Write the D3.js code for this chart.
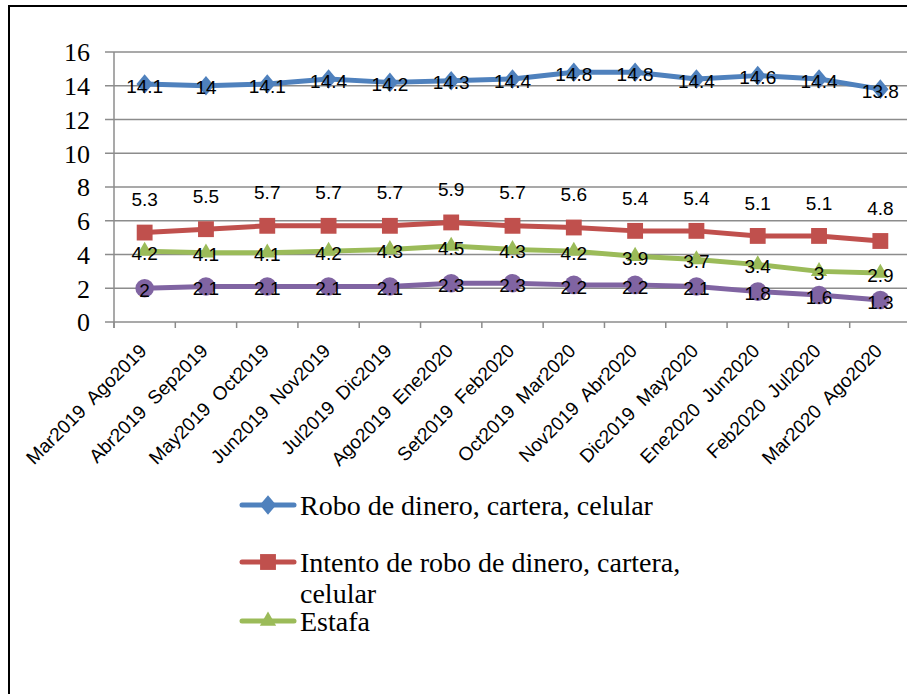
<!DOCTYPE html>
<html><head><meta charset="utf-8">
<script src="https://cdn.jsdelivr.net/npm/d3@7"></script>
<style>
html,body{margin:0;padding:0;background:#fff;}
svg{display:block;}
</style></head>
<body>
<svg id="chart" width="907" height="694"></svg>
<script>
const categories = ["Mar2019  Ago2019","Abr2019  Sep2019","May2019  Oct2019","Jun2019  Nov2019","Jul2019  Dic2019","Ago2019  Ene2020","Set2019  Feb2020","Oct2019  Mar2020","Nov2019  Abr2020","Dic2019  May2020","Ene2020  Jun2020","Feb2020  Jul2020","Mar2020  Ago2020"];
const roboValues = [14.1,14,14.1,14.4,14.2,14.3,14.4,14.8,14.8,14.4,14.6,14.4,13.8];
const intentoValues = [5.3,5.5,5.7,5.7,5.7,5.9,5.7,5.6,5.4,5.4,5.1,5.1,4.8];
const estafaValues = [4.2,4.1,4.1,4.2,4.3,4.5,4.3,4.2,3.9,3.7,3.4,3,2.9];
const otroValues = [2,2.1,2.1,2.1,2.1,2.3,2.3,2.2,2.2,2.1,1.8,1.6,1.3];
const seriesNames = ["Robo de dinero, cartera, celular","Intento de robo de dinero, cartera, celular","Estafa","Otro"];
const yTicks = [0,2,4,6,8,10,12,14,16];

const series = [
  {name:seriesNames[0], values:roboValues, color:"#4F81BD", marker:"diamond", label:"center", legend:true},
  {name:seriesNames[1], values:intentoValues, color:"#C0504D", marker:"square", label:"above", legend:true},
  {name:seriesNames[2], values:estafaValues, color:"#9BBB59", marker:"triangle", label:"center", legend:true},
  {name:seriesNames[3], values:otroValues, color:"#8064A2", marker:"circle", label:"center", legend:false}
];

const svg = d3.select("#chart");
const plotLeft = 114, plotRight = 911, plotTop = 52, plotBottom = 322;

const x = d3.scaleBand().domain(categories).range([plotLeft, plotRight]).padding(0);
const y = d3.scaleLinear().domain([0,16]).range([plotBottom, plotTop]);
const cx = c => x(c) + x.bandwidth()/2;

// frame
svg.append("rect").attr("x",9).attr("y",6).attr("width",930).attr("height",730)
  .attr("fill","none").attr("stroke","#000").attr("stroke-width",2);

// gridlines
svg.append("g").selectAll("line").data(yTicks).join("line")
  .attr("x1",105).attr("x2",plotRight).attr("y1",d=>y(d)).attr("y2",d=>y(d))
  .attr("stroke","#8c8c8c").attr("stroke-width",1.5);

// y axis line
svg.append("line").attr("x1",plotLeft).attr("x2",plotLeft).attr("y1",plotTop).attr("y2",plotBottom+6)
  .attr("stroke","#8c8c8c").attr("stroke-width",1.5);

// x ticks
const tickPos = categories.map(c => x(c)).concat([plotRight]);
svg.append("g").selectAll("line").data(tickPos).join("line")
  .attr("x1",d=>d).attr("x2",d=>d).attr("y1",plotBottom).attr("y2",plotBottom+6)
  .attr("stroke","#8c8c8c").attr("stroke-width",1.5);

// y labels
svg.append("g").selectAll("text").data(yTicks).join("text")
  .attr("x",90).attr("y",d=>y(d)).attr("dy","0.36em")
  .attr("text-anchor","end").attr("font-family","'Liberation Serif', serif").attr("font-size",26)
  .attr("fill","#000").text(d=>d);

// x labels
svg.append("g").selectAll("text").data(categories).join("text")
  .attr("transform",d=>`translate(${cx(d)+3},${352}) rotate(-45)`)
  .attr("text-anchor","end").attr("font-family","'Liberation Sans', Arial, sans-serif").attr("font-size",19)
  .attr("fill","#000").text(d=>d.replace("  ","\u00A0 "));

const sym = {
  diamond: d3.symbol().type(d3.symbolDiamond2).size(170),
  square: d3.symbol().type(d3.symbolSquare2).size(320),
  triangle: d3.symbol().type(d3.symbolTriangle2).size(190),
  circle: d3.symbol().type(d3.symbolCircle).size(270)
};

function drawMarker(g, type, color, px, py){
  let p = g.append("path").attr("d", sym[type]()).attr("fill",color)
    .attr("transform",`translate(${px},${py})`);
  if(type==="diamond") p.attr("transform",`translate(${px},${py}) scale(1,1.2)`);
  return p;
}

const line = d3.line().x((d,i)=>cx(categories[i])).y(d=>y(d));
series.forEach(s=>{
  const g = svg.append("g");
  g.append("path").attr("d",line(s.values)).attr("fill","none").attr("stroke",s.color)
    .attr("stroke-width",5).attr("stroke-linejoin","round").attr("stroke-linecap","round");
  s.values.forEach((v,i)=>drawMarker(g, s.marker, s.color, cx(categories[i]), y(v)));
});

// data labels
series.forEach(s=>{
  svg.append("g").selectAll("text").data(s.values).join("text")
    .attr("x",(d,i)=>cx(categories[i]))
    .attr("y",d=> s.label==="above" ? y(d)-33 : y(d)+2)
    .attr("dy","0.35em").attr("text-anchor","middle")
    .attr("font-family","'Liberation Sans', Arial, sans-serif").attr("font-size",19)
    .attr("fill","#000").text(d=>d);
});

// legend
const legendRows = [
  {s:series[0], y:505, lines:["Robo de dinero, cartera, celular"]},
  {s:series[1], y:562, lines:["Intento de robo de dinero, cartera,","celular"]},
  {s:series[2], y:621, lines:["Estafa"]}
];
const lg = svg.append("g");
legendRows.forEach(r=>{
  lg.append("line").attr("x1",242).attr("x2",294).attr("y1",r.y).attr("y2",r.y)
    .attr("stroke",r.s.color).attr("stroke-width",5).attr("stroke-linecap","round");
  drawMarker(lg, r.s.marker, r.s.color, 268, r.y);
  const t = lg.append("text").attr("x",300).attr("y",r.y+10)
    .attr("font-family","'Liberation Serif', serif").attr("font-size",28).attr("fill","#000");
  r.lines.forEach((l,k)=>t.append("tspan").attr("x",300).attr("dy",k===0?0:31).text(l));
});
</script>
</body></html>
